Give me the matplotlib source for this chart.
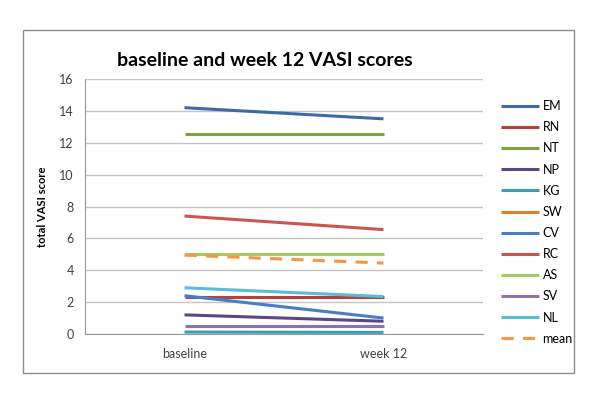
import numpy as np
import matplotlib
matplotlib.use("Agg")
import matplotlib.pyplot as plt
from matplotlib.patches import Rectangle

plt.rcParams['font.family'] = ['Lato', 'DejaVu Sans']

categories = ["baseline", "week 12"]
series_names = ["EM", "RN", "NT", "NP", "KG", "SW", "CV", "RC", "AS", "SV", "NL"]
EM = [14.2, 13.5]
RN = [2.35, 2.35]
NT = [12.55, 12.55]
NP = [1.2, 0.8]
KG = [0.12, 0.1]
SW = [np.nan, np.nan]
CV = [2.4, 1.0]
RC = [7.4, 6.55]
AS = [5.0, 5.0]
SV = [0.5, 0.5]
NL = [2.9, 2.35]
mean = [4.95, 4.45]

series_values = [EM, RN, NT, NP, KG, SW, CV, RC, AS, SV, NL]
colors = ["#3D6AA6", "#B5403C", "#7FA140", "#5E4584", "#3B9FB2", "#E07F30",
          "#4A7EC4", "#CC5550", "#A6CC5E", "#8E70B8", "#5BBCD8"]

fig = plt.figure(figsize=(6, 4), dpi=100)
fig.patch.set_facecolor("white")

# outer chart border
fig.patches.append(Rectangle((23 / 600, 1 - 373 / 400), (574 - 23) / 600, (373 - 30) / 400,
                             transform=fig.transFigure, fill=False,
                             edgecolor="#8C8C8C", linewidth=1.0))

ax = fig.add_axes([85 / 600, 1 - 334 / 400, (483 - 85) / 600, (334 - 79) / 400])
x = np.arange(len(categories))

handles = []
for name, vals, c in zip(series_names, series_values, colors):
    h, = ax.plot(x, vals, color=c, lw=2.2, solid_capstyle="butt", label=name)
    handles.append(h)
hm, = ax.plot(x, mean, color="#F79646", lw=2.2, ls=(0, (4, 3)), label="mean")
handles.append(hm)

ax.set_xlim(-0.5, 1.5)
ax.set_ylim(0, 16)
ax.set_yticks(np.arange(0, 17, 2))
ax.set_xticks(x)
ax.set_xticklabels(categories)
ax.yaxis.grid(True, color="#C4C4C4", lw=1.0)
ax.set_axisbelow(True)
for s in ["top", "right"]:
    ax.spines[s].set_visible(False)
ax.spines["left"].set_color("#9A9A9A")
ax.spines["bottom"].set_color("#9A9A9A")
ax.tick_params(axis="y", length=0, labelsize=9, colors="#404040", pad=8)
ax.tick_params(axis="x", length=0, labelsize=9, colors="#404040", pad=10)

ax.set_ylabel("total VASI score", fontsize=8, fontweight="bold", labelpad=8)
fig.text(265 / 600, 1 - 60 / 400, "baseline and week 12 VASI scores",
         ha="center", va="center", fontsize=14, fontweight="bold")

fig.legend(handles=handles, loc="upper left", bbox_to_anchor=(495 / 600, 1 - 94 / 400),
           frameon=False, fontsize=9, handlelength=3.0, handletextpad=0.3,
           labelspacing=0.73, borderpad=0)

fig.savefig("out.png", dpi=100)
